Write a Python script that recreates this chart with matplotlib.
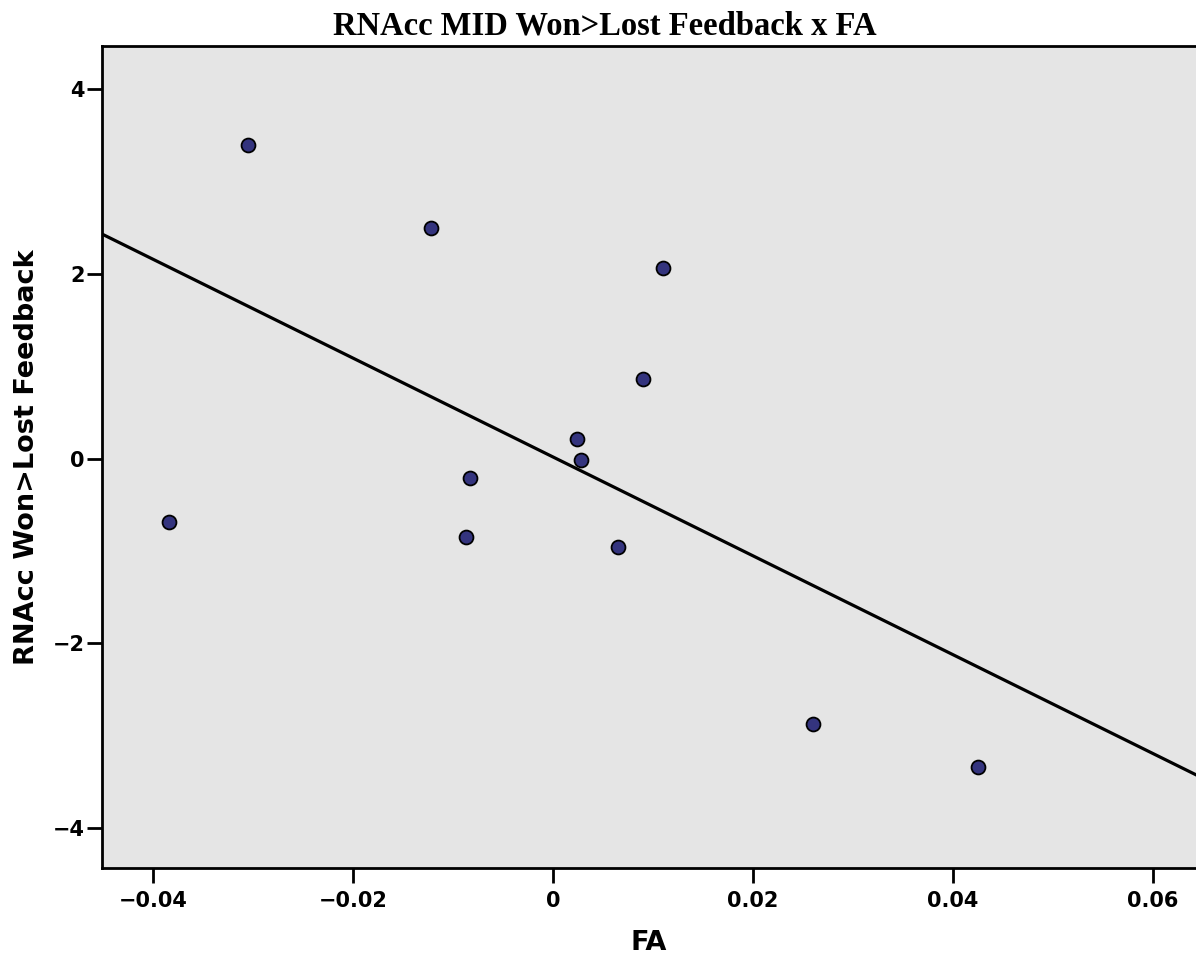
import numpy as np
import matplotlib
matplotlib.use('Agg')
import matplotlib.pyplot as plt

# FA vs RNAcc Won>Lost feedback
fa = [-0.0384, -0.0305, -0.0122, 0.0110, 0.0090, 0.0024,
      0.0028, -0.0083, -0.0087, 0.0065, 0.0260, 0.0425]
rnacc = [-0.68, 3.40, 2.50, 2.06, 0.86, 0.21,
         -0.01, -0.21, -0.85, -0.96, -2.87, -3.34]

xticks = [-0.04, -0.02, 0, 0.02, 0.04, 0.06]
xticklabels = ['\u22120.04', '\u22120.02', '0', '0.02', '0.04', '0.06']
yticks = [-4, -2, 0, 2, 4]
yticklabels = ['\u22124', '\u22122', '0', '2', '4']

fig = plt.figure(figsize=(11.96, 9.65), dpi=100)
ax = fig.add_axes([0.0853, 0.1005, 0.9147, 0.8518])
ax.set_facecolor('#e5e5e5')

xlim = (-0.0451, 0.0643)
ax.set_xlim(xlim)
ax.set_ylim(-4.43, 4.466)

# linear fit line
slope, inter = np.polyfit(fa, rnacc, 1)
xx = np.array(xlim)
ax.plot(xx, slope * xx + inter, color='black', linewidth=2.3, zorder=2)

ax.scatter(fa, rnacc, s=100, color='#34347e', edgecolors='black',
           linewidths=1.3, zorder=3)

ax.set_xticks(xticks)
ax.set_xticklabels(xticklabels, fontsize=15, fontweight='bold')
ax.set_yticks(yticks)
ax.set_yticklabels(yticklabels, fontsize=15, fontweight='bold')
ax.tick_params(direction='out', length=10.5, width=2)
ax.tick_params(axis='x', pad=6)
ax.tick_params(axis='y', pad=2)

for side in ['left', 'bottom', 'top']:
    ax.spines[side].set_linewidth(2)
ax.spines['right'].set_visible(False)

ax.set_xlabel('FA', fontsize=19.5, fontweight='bold', labelpad=14)
ax.set_ylabel('RNAcc Won>Lost Feedback', fontsize=19.5, fontweight='bold', labelpad=9)
fig.suptitle('RNAcc MID Won>Lost Feedback x FA', fontsize=23.5, fontweight='bold',
             family='Liberation Serif', x=0.506, y=0.989, va='top')

fig.savefig('out.png', dpi=100)
